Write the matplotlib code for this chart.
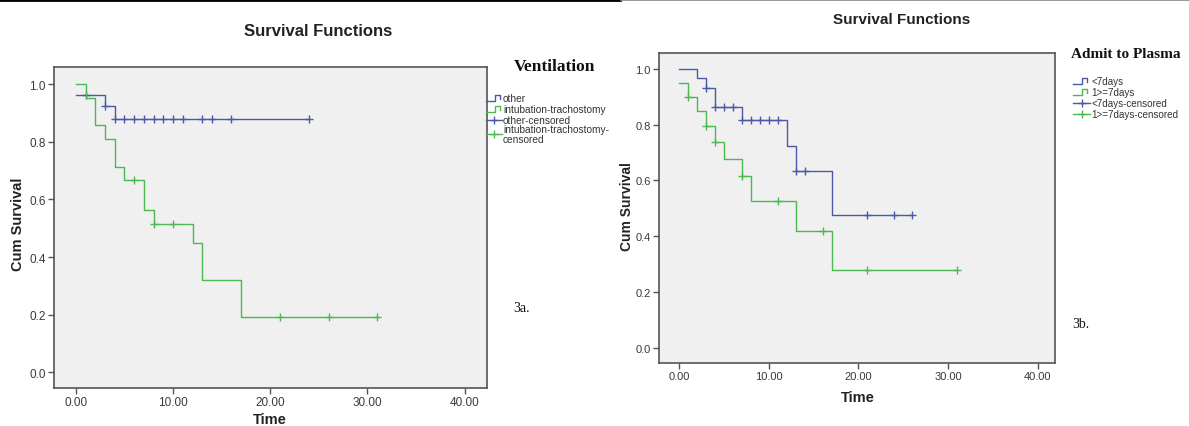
import numpy as np
import matplotlib
matplotlib.use("Agg")
import matplotlib.pyplot as plt
from matplotlib.lines import Line2D

# ---- data ----
# Panel 3a: Ventilation
a_other_t = [0, 3, 4, 24]
a_other_s = [0.962, 0.925, 0.880, 0.880]
a_other_cens = [1, 3, 4, 5, 6, 7, 8, 9, 10, 11, 13, 14, 16, 24]

a_intub_t = [0, 1, 2, 3, 4, 5, 7, 8, 12, 13, 17, 31]
a_intub_s = [1.0, 0.952, 0.857, 0.810, 0.714, 0.667, 0.565, 0.514, 0.449, 0.321, 0.193, 0.193]
a_intub_cens = [6, 8, 10, 21, 26, 31]

# Panel 3b: Admit to Plasma
b_lt7_t = [0, 2, 3, 4, 7, 12, 13, 17, 26]
b_lt7_s = [1.0, 0.966, 0.931, 0.862, 0.815, 0.724, 0.634, 0.475, 0.475]
b_lt7_cens = [3, 4, 5, 6, 7, 8, 9, 10, 11, 13, 14, 21, 24, 26]

b_ge7_t = [0, 1, 2, 3, 4, 5, 7, 8, 13, 17, 31]
b_ge7_s = [0.950, 0.900, 0.848, 0.795, 0.738, 0.676, 0.615, 0.527, 0.420, 0.280, 0.280]
b_ge7_cens = [1, 3, 4, 7, 11, 16, 21, 31]

x_ticks = [0, 10, 20, 30, 40]
y_ticks = [0.0, 0.2, 0.4, 0.6, 0.8, 1.0]

a_labels = ["other", "intubation-trachostomy", "other-censored", "intubation-trachostomy-\ncensored"]
b_labels = ["<7days", "1>=7days", "<7days-censored", "1>=7days-censored"]

BLUE = "#4a5aa8"
GREEN = "#4cb850"
BG = "#f0f0f0"
SPINE = "#555555"

W, H = 1189, 427
fig = plt.figure(figsize=(W / 100, H / 100), dpi=100)
fig.patch.set_facecolor("white")

def fx(px):
    return px / W

def fy(py):
    return 1 - py / H

def step_lookup(t, s, q):
    idx = np.searchsorted(np.asarray(t), np.asarray(q), side="right") - 1
    return np.asarray(s)[idx]

def make_axes(x0, y0, x1, y1, tsize):
    ax = fig.add_axes([fx(x0), fy(y1), fx(x1 - x0), (y1 - y0) / H])
    ax.set_facecolor(BG)
    for sp in ["top", "right", "left", "bottom"]:
        ax.spines[sp].set_color(SPINE)
        ax.spines[sp].set_linewidth(1.2)
    ax.set_xticks(x_ticks)
    ax.set_xticklabels([f"{v:.2f}" for v in x_ticks])
    ax.set_yticks(y_ticks)
    ax.set_yticklabels([f"{v:.1f}" for v in y_ticks])
    ax.tick_params(direction="out", length=4, width=1, color=SPINE,
                   labelsize=tsize, labelcolor="#3a3a3a", pad=2)
    for lab in ax.get_xticklabels() + ax.get_yticklabels():
        lab.set_fontfamily("Liberation Sans")
    return ax

def draw_curve(ax, t, s, cens, color):
    ax.step(t, s, where="post", color=color, lw=1.0)
    ax.plot(cens, step_lookup(t, s, cens), ls="none", marker="+",
            ms=6, mew=1.0, color=color)

# ---- panel 3a ----
axa = make_axes(54, 68, 487, 389, 8.5)
axa.set_xlim(-2.25, 42.3)
axa.set_ylim(-0.055, 1.06)
draw_curve(axa, a_other_t, a_other_s, a_other_cens, BLUE)
draw_curve(axa, a_intub_t, a_intub_s, a_intub_cens, GREEN)

# ---- panel 3b ----
axb = make_axes(659, 54, 1055, 364, 8)
axb.set_xlim(-2.23, 41.9)
axb.set_ylim(-0.055, 1.057)
draw_curve(axb, b_lt7_t, b_lt7_s, b_lt7_cens, BLUE)
draw_curve(axb, b_ge7_t, b_ge7_s, b_ge7_cens, GREEN)

# ---- titles and axis labels ----
tkw = dict(fontfamily="Liberation Sans", fontweight="bold", color="#222222")
fig.text(fx(318), fy(32), "Survival Functions", ha="center", va="center", fontsize=12, **tkw)
fig.text(fx(902), fy(20), "Survival Functions", ha="center", va="center", fontsize=11, **tkw)
fig.text(fx(18), fy(224), "Cum Survival", ha="center", va="center", rotation=90, fontsize=10.5, **tkw)
fig.text(fx(627), fy(207), "Cum Survival", ha="center", va="center", rotation=90, fontsize=10, **tkw)
fig.text(fx(270), fy(420), "Time", ha="center", va="center", fontsize=10.5, **tkw)
fig.text(fx(858), fy(398), "Time", ha="center", va="center", fontsize=10.5, **tkw)

# ---- legends ----
serif = dict(fontfamily="Liberation Serif", color="#111111")
fig.text(fx(554), fy(67), "Ventilation", ha="center", va="center", fontsize=12.5,
         fontweight="bold", **serif)
fig.text(fx(1126), fy(55), "Admit to Plasma", ha="center", va="center", fontsize=11,
         fontweight="bold", **serif)
fig.text(fx(521), fy(308), "3a.", ha="center", va="center", fontsize=10, **serif)
fig.text(fx(1081), fy(325), "3b.", ha="center", va="center", fontsize=10, **serif)

def legend_block(xs, xe, xt, ys, labels, colors, kinds, fsize):
    for y, lab, c, k in zip(ys, labels, colors, kinds):
        if k == "step":
            xm1 = xs + (xe - xs) * 0.55
            xm2 = xs + (xe - xs) * 0.85
            xs_ = [xs, xm1, xm1, xm2, xm2]
            ys_ = [y + 3, y + 3, y - 3, y - 3, y + 0.5]
            fig.add_artist(Line2D([fx(v) for v in xs_], [fy(v) for v in ys_],
                                  color=c, lw=1.0, transform=fig.transFigure))
        else:
            fig.add_artist(Line2D([fx(xs), fx(xe)], [fy(y), fy(y)], color=c, lw=1.0,
                                  transform=fig.transFigure))
            fig.add_artist(Line2D([fx((xs + xe) / 2)], [fy(y)], color=c, marker="+",
                                  ms=6, mew=1.0, ls="none", transform=fig.transFigure))
        fig.text(fx(xt), fy(y), lab, ha="left", va="center", fontsize=fsize,
                 fontfamily="Liberation Sans", color="#333333", linespacing=0.95)

kinds = ["step", "step", "cens", "cens"]
legend_block(486, 502, 503, [99, 110, 121, 135], a_labels,
             [BLUE, GREEN, BLUE, GREEN], kinds, 7.3)
legend_block(1073, 1090, 1091, [82, 93, 104, 115], b_labels,
             [BLUE, GREEN, BLUE, GREEN], kinds, 7.1)

# ---- page border lines at top ----
fig.add_artist(Line2D([0, fx(620)], [fy(1), fy(1)], color="black", lw=2.0,
                      transform=fig.transFigure))
fig.add_artist(Line2D([fx(620), 1], [fy(1), fy(1)], color="#888888", lw=0.6,
                      transform=fig.transFigure))

fig.savefig("out.png", dpi=100, facecolor="white")
